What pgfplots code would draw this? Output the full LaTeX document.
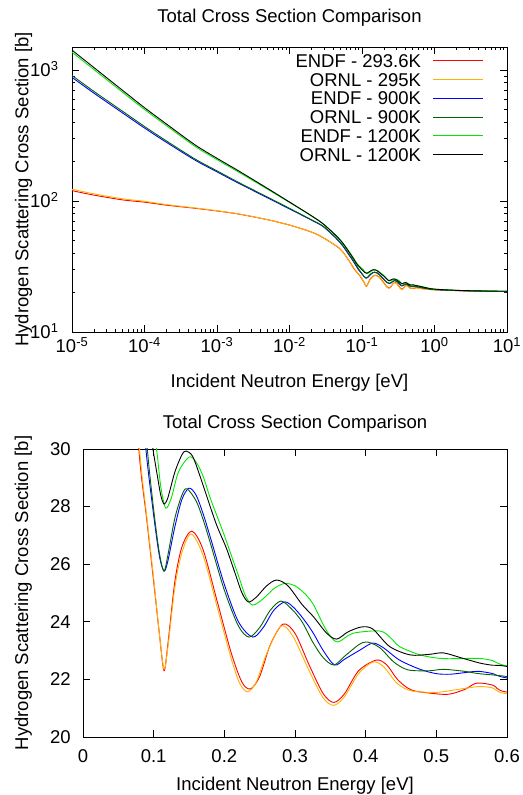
\documentclass[border=0pt]{standalone}
\usepackage{fontspec}
\setmainfont{Liberation Sans}
\usepackage{pgfplots}
\usepackage{pgfplotstable}
\pgfplotsset{compat=1.18}
\definecolor{cRed}{RGB}{255,0,0}
\definecolor{cOrange}{RGB}{255,178,0}
\definecolor{cBlue}{RGB}{0,0,255}
\definecolor{cDkGreen}{RGB}{0,100,0}
\definecolor{cGreen}{RGB}{0,232,0}

\pgfplotstableread{
x y
1e-5 120
2e-5 111
5e-5 102
1e-4 98
2e-4 93
5e-4 88
1e-3 84
2e-3 79.5
5e-3 72
1e-2 65.5
2e-2 58
3e-2 52
5e-2 43
0.065 35.5
0.079 30
0.09 27.6
0.1 25.4
0.108 23.6
0.1146 22.3
0.12 23.2
0.13 25.4
0.14 26.6
0.154 27.15
0.17 26.5
0.19 24.7
0.21 22.9
0.225 21.9
0.237 21.67
0.25 22.1
0.265 23.2
0.283 23.92
0.3 23.6
0.32 22.5
0.34 21.5
0.355 21.2
0.37 21.5
0.39 22.3
0.415 22.67
0.43 22.5
0.445 22.0
0.465 21.63
0.5 21.5
0.519 21.49
0.54 21.65
0.557 21.87
0.58 21.8
0.6 21.56
0.7 21.4
0.8 21.2
1 21.0
2 20.7
5 20.45
10 20.35
}\tRed

\pgfplotstableread{
x y
1e-5 123
2e-5 113.5
5e-5 104
1e-4 99.5
2e-4 94
5e-4 88.5
1e-3 84.3
2e-3 79.7
5e-3 72
1e-2 65.5
2e-2 58
3e-2 52
5e-2 43
0.065 35.5
0.08 30
0.09 27.7
0.1 25.5
0.108 23.6
0.1146 22.35
0.12 23.1
0.13 25.2
0.14 26.4
0.153 27.05
0.17 26.3
0.19 24.5
0.21 22.7
0.222 21.85
0.233 21.57
0.245 21.9
0.26 22.9
0.28 23.85
0.297 23.5
0.32 22.3
0.34 21.35
0.355 21.1
0.37 21.4
0.39 22.2
0.41 22.6
0.425 22.45
0.445 21.85
0.465 21.6
0.5 21.55
0.53 21.65
0.56 21.75
0.58 21.7
0.6 21.5
0.7 21.35
0.8 21.15
1 21.0
2 20.7
5 20.45
10 20.35
}\tOrange

\pgfplotstableread{
x y
1e-5 880
2e-5 667
5e-5 470
1e-4 361
2e-4 281
5e-4 205
1e-3 167
2e-3 136.5
5e-3 105.7
1e-2 87
2e-2 71.6
3e-2 63
5e-2 48
0.07 37
0.08 33
0.089 30
0.1 27.7
0.108 26.3
0.1146 25.76
0.12 26.1
0.13 27.3
0.14 28.25
0.15 28.64
0.16 28.4
0.17 27.75
0.18 26.95
0.2 25.3
0.22 24.0
0.24 23.47
0.255 23.8
0.27 24.4
0.286 24.69
0.3 24.45
0.315 24.0
0.326 23.6
0.34 23.0
0.356 22.5
0.37 22.7
0.392 23.02
0.41 23.26
0.425 23.1
0.448 22.67
0.477 22.35
0.5 22.2
0.52 22.18
0.545 22.25
0.56 22.28
0.58 22.2
0.6 22.05
0.7 21.7
0.8 21.4
1 21.1
2 20.75
5 20.5
10 20.4
}\tBlue

\pgfplotstableread{
x y
1e-5 910
2e-5 688
5e-5 484
1e-4 371
2e-4 288
5e-4 209
1e-3 170
2e-3 138.5
5e-3 107
1e-2 88
2e-2 72
3e-2 63.5
5e-2 48.5
0.07 37.5
0.08 33.5
0.091 30
0.1 27.9
0.108 26.4
0.1146 25.76
0.12 26.3
0.13 27.6
0.14 28.4
0.147 28.62
0.16 28.2
0.17 27.55
0.18 26.75
0.2 25.1
0.22 23.85
0.235 23.47
0.25 23.8
0.265 24.4
0.28 24.72
0.295 24.45
0.31 24.0
0.325 23.3
0.34 22.75
0.355 22.5
0.37 22.8
0.39 23.2
0.402 23.3
0.42 23.1
0.44 22.6
0.46 22.33
0.49 22.3
0.51 22.35
0.54 22.28
0.56 22.2
0.6 22.1
0.7 21.75
0.8 21.45
1 21.1
2 20.75
5 20.5
10 20.4
}\tDkGreen

\pgfplotstableread{
x y
1e-5 1370
2e-5 1010
5e-5 676
1e-4 500
2e-4 377
5e-4 261
1e-3 207
2e-3 166
5e-3 123
1e-2 97.5
2e-2 77
3e-2 66
5e-2 50.5
0.07 39.5
0.085 33.5
0.095 31.2
0.104 30
0.11 28.7
0.117 27.95
0.125 28.3
0.135 29.2
0.15 29.72
0.16 29.55
0.17 29.05
0.18 28.3
0.19 27.65
0.2 27.0
0.21 26.3
0.22 25.6
0.23 24.9
0.24 24.58
0.255 24.8
0.27 25.15
0.285 25.33
0.3 25.25
0.315 24.95
0.326 24.6
0.34 23.9
0.35 23.5
0.361 23.3
0.382 23.6
0.42 23.68
0.435 23.45
0.448 23.14
0.477 22.85
0.505 22.73
0.53 22.72
0.56 22.73
0.58 22.65
0.6 22.47
0.7 22.1
0.8 21.7
1 21.25
2 20.8
5 20.55
10 20.45
}\tGreen

\pgfplotstableread{
x y
1e-5 1420
2e-5 1046
5e-5 699
1e-4 516
2e-4 388
5e-4 268
1e-3 212
2e-3 169.5
5e-3 124.6
1e-2 98.3
2e-2 77.3
3e-2 66
5e-2 50.5
0.07 39
0.085 33
0.094 31
0.099 30
0.105 29.1
0.11 28.4
0.1146 28.09
0.12 28.3
0.13 29.2
0.14 29.8
0.146 29.93
0.155 29.75
0.165 29.1
0.18 28.0
0.19 27.3
0.203 26.55
0.215 25.7
0.225 25.0
0.234 24.69
0.245 24.85
0.26 25.25
0.274 25.45
0.29 25.25
0.31 24.6
0.326 24.18
0.345 23.6
0.359 23.4
0.375 23.65
0.394 23.82
0.41 23.75
0.434 23.14
0.463 22.85
0.49 22.87
0.51 22.92
0.535 22.75
0.561 22.57
0.58 22.49
0.6 22.45
0.7 22.0
0.8 21.65
1 21.25
2 20.8
5 20.55
10 20.45
}\tBlack

\begin{document}
\begin{tikzpicture}
\useasboundingbox (0pt,0pt) rectangle (522pt,795pt);
\pgfplotsset{
  every axis/.append style={
    scale only axis,
    font=\fontsize{18.5}{20}\selectfont,
    axis line style={line width=0.8pt},
    major tick length=7pt, minor tick length=3.5pt,
    tick style={line width=0.6pt, black},
    /pgf/number format/assume math mode=true,
  },
  every axis plot/.append style={line width=0.9pt, no marks},
}
% ---------------- top axis ----------------
\begin{axis}[
  at={(72pt,463pt)}, anchor=south west, width=435pt, height=285pt,
  xmode=log, ymode=log, xmin=1e-5, xmax=10, ymin=10, ymax=1500,
  xtick={1e-5,1e-4,1e-3,1e-2,1e-1,1,10},
  xticklabels={10\textsuperscript{-5},10\textsuperscript{-4},10\textsuperscript{-3},10\textsuperscript{-2},10\textsuperscript{-1},10\textsuperscript{0},10\textsuperscript{1}},
  minor xtick={2e-5,3e-5,4e-5,5e-5,6e-5,7e-5,8e-5,9e-5,2e-4,3e-4,4e-4,5e-4,6e-4,7e-4,8e-4,9e-4,2e-3,3e-3,4e-3,5e-3,6e-3,7e-3,8e-3,9e-3,2e-2,3e-2,4e-2,5e-2,6e-2,7e-2,8e-2,9e-2,0.2,0.3,0.4,0.5,0.6,0.7,0.8,0.9,2,3,4,5,6,7,8,9},
  ytick={10,100,1000},
  yticklabels={10\textsuperscript{1},10\textsuperscript{2},10\textsuperscript{3}},
  minor ytick={20,30,40,50,60,70,80,90,200,300,400,500,600,700,800,900},
  xticklabel style={anchor=base, yshift=-21pt},
  yticklabel style={anchor=base east, yshift=-6.6pt, xshift=-10pt},
  title={Total Cross Section Comparison},
  title style={yshift=11pt},
  xlabel={Incident Neutron Energy [eV]},
  xlabel style={at={(axis description cs:0.5,0)}, anchor=base, yshift=-55.5pt},
  ylabel={Hydrogen Scattering Cross Section [b]},
  ylabel style={at={(axis description cs:-0.1,0.5)}, anchor=base},
  legend cell align=right,
  legend plot pos=right,
  legend image code/.code={\draw[#1, line width=1pt] (0pt,0pt) -- (50pt,0pt);},
  legend style={draw=none, fill=none, inner sep=0pt, outer sep=0pt,
    at={(0.9471,0.9839)}, anchor=north east, row sep=0pt, column sep=12pt,
    font=\fontsize{18.5}{20}\selectfont,
    nodes={inner sep=0pt, text height=15.95pt, text depth=2.75pt}},
]
\addplot[cRed, smooth] table {\tRed};
\addlegendentry{ENDF - 293.6K}
\addplot[cOrange, smooth] table {\tOrange};
\addlegendentry{ORNL - 295K}
\addplot[cBlue, smooth] table {\tBlue};
\addlegendentry{ENDF - 900K}
\addplot[cDkGreen, smooth] table {\tDkGreen};
\addlegendentry{ORNL - 900K}
\addplot[cGreen, smooth] table {\tGreen};
\addlegendentry{ENDF - 1200K}
\addplot[black, smooth] table {\tBlack};
\addlegendentry{ORNL - 1200K}
\end{axis}
% ---------------- bottom axis ----------------
\begin{axis}[
  at={(83pt,58pt)}, anchor=south west, width=424pt, height=288pt,
  xmin=0, xmax=0.6, ymin=20, ymax=30,
  xtick={0,0.1,0.2,0.3,0.4,0.5,0.6},
  xticklabels={0,0.1,0.2,0.3,0.4,0.5,0.6},
  ytick={20,22,24,26,28,30},
  yticklabels={20,22,24,26,28,30},
  xticklabel style={anchor=base, yshift=-25.7pt},
  yticklabel style={anchor=east, xshift=-8.7pt},
  title={Total Cross Section Comparison},
  title style={yshift=7.5pt},
  xlabel={Incident Neutron Energy [eV]},
  xlabel style={at={(axis description cs:0.5,0)}, anchor=base, yshift=-53.5pt},
  ylabel={Hydrogen Scattering Cross Section [b]},
  ylabel style={at={(axis description cs:-0.1297,0.5)}, anchor=base},
]
\addplot[cRed, smooth] table[skip coords between index={0}{13}] {\tRed};
\addplot[cOrange, smooth] table[skip coords between index={0}{13}] {\tOrange};
\addplot[cBlue, smooth] table[skip coords between index={0}{13}] {\tBlue};
\addplot[cDkGreen, smooth] table[skip coords between index={0}{13}] {\tDkGreen};
\addplot[cGreen, smooth] table[skip coords between index={0}{13}] {\tGreen};
\addplot[black, smooth] table[skip coords between index={0}{13}] {\tBlack};
\end{axis}
\end{tikzpicture}
\end{document}
